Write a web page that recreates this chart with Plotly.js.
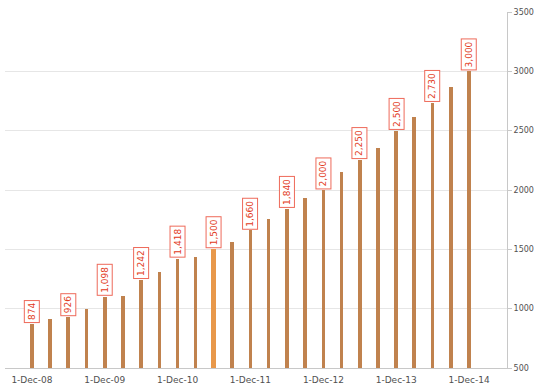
<!DOCTYPE html>
<html>
<head>
<meta charset="utf-8">
<script src="https://cdn.plot.ly/plotly-3.0.1.min.js"></script>
<style>
  html, body { margin: 0; padding: 0; background: #ffffff; overflow: hidden; }
  #chart { width: 536px; height: 391px; }
</style>
</head>
<body>
<div id="chart"></div>
<script>
// Quarterly dates and values
const dates = [
  "2008-12-01", "2009-03-01", "2009-06-01", "2009-09-01",
  "2009-12-01", "2010-03-01", "2010-06-01", "2010-09-01",
  "2010-12-01", "2011-03-01", "2011-06-01", "2011-09-01",
  "2011-12-01", "2012-03-01", "2012-06-01", "2012-09-01",
  "2012-12-01", "2013-03-01", "2013-06-01", "2013-09-01",
  "2013-12-01", "2014-03-01", "2014-06-01", "2014-09-01",
  "2014-12-01"
];
const values = [
  874, 910, 926, 1000,
  1098, 1105, 1242, 1305,
  1418, 1432, 1500, 1565,
  1660, 1754, 1840, 1932,
  2000, 2152, 2250, 2355,
  2500, 2618, 2730, 2864,
  3000
];
// Dates that carry a value label
const labeledDates = [
  "2008-12-01", "2009-06-01", "2009-12-01", "2010-06-01",
  "2010-12-01", "2011-06-01", "2011-12-01", "2012-06-01",
  "2012-12-01", "2013-06-01", "2013-12-01", "2014-06-01",
  "2014-12-01"
];
const highlightDate = "2011-06-01";
const yTickVals = [500, 1000, 1500, 2000, 2500, 3000, 3500];
const yTickText = ["500", "1000", "1500", "2000", "2500", "3000", "3500"];

const DAY = 86400000;
const barColors = dates.map(d => d === highlightDate ? "#e8984a" : "#c0824e");
const barWidths = dates.map(d => d === highlightDate ? 26 * DAY : 18 * DAY);

const annotations = labeledDates.map(d => {
  const v = values[dates.indexOf(d)];
  return {
    x: d, y: v, xref: "x", yref: "y",
    text: v.toLocaleString("en-US"),
    showarrow: false,
    textangle: -90,
    yanchor: "bottom",
    xanchor: "center",
    yshift: 1,
    font: { family: "DejaVu Sans", size: 9, color: "#e23a22" },
    bgcolor: "#ffffff",
    bordercolor: "#ee6a5a",
    borderwidth: 1,
    borderpad: 2
  };
});

const trace = {
  type: "bar",
  x: dates,
  y: values,
  width: barWidths,
  marker: { color: barColors, line: { width: 0 } },
  hoverinfo: "x+y"
};

const layout = {
  width: 536,
  height: 391,
  margin: { l: 5, r: 29, t: 12, b: 23 },
  paper_bgcolor: "#ffffff",
  plot_bgcolor: "#ffffff",
  showlegend: false,
  bargap: 0,
  xaxis: {
    type: "date",
    range: ["2008-07-19", "2015-06-09"],
    tick0: "2008-12-01",
    dtick: "M12",
    tickformat: "%-d-%b-%y",
    showgrid: false,
    showline: true,
    linecolor: "#c8c8c8",
    linewidth: 1,
    ticks: "",
    ticklabelstandoff: 3,
    tickfont: { family: "DejaVu Sans", size: 9, color: "#505050" },
    automargin: false,
    fixedrange: true
  },
  yaxis: {
    side: "right",
    range: [500, 3500],
    tickvals: yTickVals,
    ticktext: yTickText,
    showgrid: true,
    gridcolor: "#e6e6e6",
    gridwidth: 1,
    showline: true,
    linecolor: "#c8c8c8",
    linewidth: 1,
    ticks: "outside",
    ticklen: 4,
    tickcolor: "#c8c8c8",
    ticklabelstandoff: 0,
    tickfont: { family: "DejaVu Sans", size: 8, color: "#505050" },
    automargin: false,
    zeroline: false,
    fixedrange: true
  },
  annotations: annotations
};

Plotly.newPlot("chart", [trace], layout, { displayModeBar: false, staticPlot: true });
</script>
</body>
</html>
